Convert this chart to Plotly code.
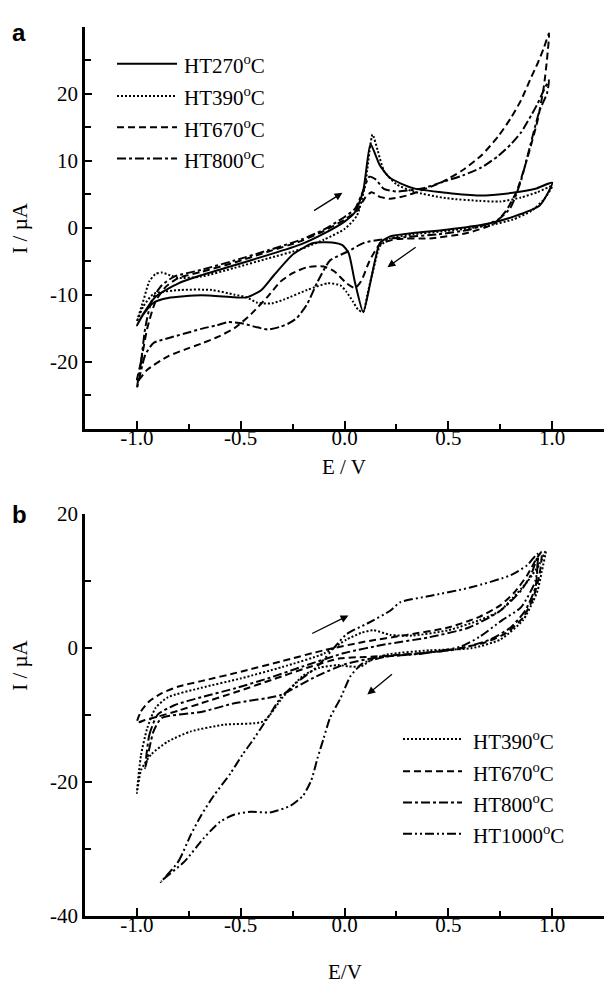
import plotly.graph_objects as go

# ---------------- Panel a data (E / V, I / uA) ----------------
a_series = ["HT270", "HT390", "HT670", "HT800"]

a_ht270_E = [-1.0, -0.97, -0.91, -0.80, -0.69, -0.53, -0.37, -0.21, -0.10, 0.0, 0.05, 0.09, 0.125, 0.15, 0.17, 0.22, 0.33, 0.49, 0.65, 0.81, 0.92, 1.0,
             0.94, 0.81, 0.69, 0.49, 0.33, 0.22, 0.17, 0.15, 0.125, 0.09, 0.05, 0.02, -0.01, -0.06, -0.15, -0.245, -0.34, -0.40, -0.47, -0.53, -0.69, -0.85, -0.92, -0.97, -1.0]
a_ht270_I = [-14.6, -12.9, -10.3, -8.3, -7.1, -5.6, -4.1, -2.5, -0.9, 0.9, 2.3, 5.5, 12.5, 10.8, 9.3, 7.4, 5.9, 5.2, 4.8, 5.2, 5.8, 6.7,
             3.3, 1.6, 0.6, -0.3, -0.8, -1.3, -2.3, -4.5, -8.1, -12.6, -8.1, -3.8, -2.6, -2.2, -2.3, -3.9, -7.1, -9.3, -10.4, -10.4, -10.1, -10.5, -11.2, -13.0, -14.6]

a_ht390_E = [-1.0, -0.97, -0.94, -0.91, -0.88, -0.84, -0.80, -0.69, -0.53, -0.37, -0.21, -0.10, 0.0, 0.06, 0.10, 0.135, 0.16, 0.19, 0.25, 0.33, 0.49, 0.65, 0.75, 0.85, 0.93, 1.0,
             0.96, 0.90, 0.81, 0.69, 0.49, 0.33, 0.22, 0.17, 0.14, 0.11, 0.09, 0.065, 0.04, 0.01, -0.02, -0.08, -0.18, -0.29, -0.35, -0.42, -0.47, -0.53, -0.64, -0.79, -0.92, -0.97, -1.0]
a_ht390_I = [-14.0, -11.0, -8.0, -6.9, -6.7, -7.1, -7.5, -7.3, -6.0, -4.6, -3.2, -1.8, -0.2, 1.8, 6.5, 13.9, 11.5, 8.5, 6.5, 5.4, 4.4, 4.0, 3.9, 4.5, 5.3, 6.2,
             4.2, 2.5, 1.2, 0.3, -0.5, -1.0, -1.6, -2.8, -6.1, -10.0, -12.6, -12.2, -11.0, -9.6, -8.6, -8.3, -9.3, -10.7, -11.3, -11.2, -10.4, -10.0, -9.3, -9.3, -9.9, -11.8, -14.0]

a_ht670_E = [-1.0, -0.98, -0.95, -0.91, -0.86, -0.80, -0.69, -0.53, -0.37, -0.21, -0.10, 0.0, 0.06, 0.10, 0.13, 0.17, 0.22, 0.30, 0.38, 0.47, 0.57, 0.66, 0.74, 0.80, 0.85, 0.90, 0.93, 0.96, 0.985,
             0.975, 0.96, 0.93, 0.88, 0.83, 0.78, 0.72, 0.59, 0.41, 0.25, 0.17, 0.12, 0.08, 0.05, 0.01, -0.05, -0.10, -0.18, -0.25, -0.31, -0.37, -0.45, -0.53, -0.61, -0.69, -0.77, -0.85, -0.95, -1.0]
a_ht670_I = [-23.0, -20.0, -15.0, -11.0, -8.8, -7.5, -6.6, -5.2, -3.6, -2.0, -0.5, 1.2, 2.5, 4.5, 5.3, 4.6, 4.3, 4.8, 5.7, 6.8, 8.6, 10.8, 13.6, 16.3, 19.0, 22.5, 24.5, 26.8, 29.0,
             25.0, 21.0, 16.0, 10.3, 5.5, 2.6, 0.6, -0.8, -1.6, -1.7, -2.5, -5.0, -8.0, -9.0, -8.3, -6.5, -5.8, -5.9, -6.8, -8.1, -10.3, -12.9, -15.0, -16.3, -17.3, -18.2, -19.2, -21.2, -23.0]

a_ht800_E = [-1.0, -0.98, -0.96, -0.93, -0.88, -0.82, -0.69, -0.53, -0.37, -0.21, -0.10, 0.0, 0.05, 0.09, 0.12, 0.15, 0.19, 0.25, 0.38, 0.47, 0.57, 0.66, 0.74, 0.80, 0.85, 0.90, 0.93, 0.96, 0.985,
             0.975, 0.94, 0.89, 0.85, 0.80, 0.74, 0.60, 0.45, 0.30, 0.17, 0.09, 0.02, -0.07, -0.13, -0.18, -0.23, -0.27, -0.31, -0.37, -0.43, -0.49, -0.56, -0.62, -0.69, -0.77, -0.85, -0.92, -0.96, -1.0]
a_ht800_I = [-24.0, -20.0, -15.0, -11.0, -8.6, -7.3, -6.3, -4.9, -3.4, -1.8, -0.3, 1.6, 2.8, 5.5, 7.6, 7.2, 5.8, 5.4, 5.9, 6.8, 7.8, 9.0, 10.7, 12.4, 14.2, 16.8, 18.5, 20.5, 22.0,
             20.0, 17.5, 11.7, 7.0, 3.0, 1.2, -0.3, -1.0, -1.4, -1.8, -2.3, -3.5, -4.9, -8.1, -11.4, -13.5, -14.3, -14.8, -15.2, -14.8, -14.3, -14.1, -14.6, -15.1, -15.8, -16.5, -17.2, -19.0, -24.0]

# ---------------- Panel b data ----------------
b_series = ["HT390", "HT670", "HT800", "HT1000"]

b_ht390_E = [-1.0, -0.98, -0.95, -0.91, -0.85, -0.69, -0.50, -0.30, -0.10, 0.01, 0.08, 0.14, 0.22, 0.33, 0.50, 0.65, 0.75, 0.81, 0.88, 0.94, 0.97,
             0.95, 0.93, 0.91, 0.86, 0.75, 0.61, 0.41, 0.21, 0.13, 0.08, 0.02, -0.03, -0.12, -0.20, -0.30, -0.39, -0.58, -0.74, -0.85, -0.93, -0.98, -1.0]
b_ht390_I = [-21.7, -16.0, -12.0, -9.0, -7.4, -6.0, -4.6, -2.9, -0.9, 1.2, 2.2, 2.6, 1.9, 1.8, 2.6, 4.1, 5.5, 7.4, 9.8, 12.5, 14.5,
             11.3, 8.5, 7.0, 4.1, 1.2, -0.1, -0.4, -1.0, -1.8, -2.8, -2.8, -2.6, -3.0, -4.2, -7.5, -11.0, -11.5, -12.5, -14.0, -15.9, -18.3, -21.7]

b_ht670_E = [-1.0, -0.98, -0.94, -0.88, -0.80, -0.69, -0.50, -0.30, -0.10, 0.10, 0.30, 0.50, 0.65, 0.75, 0.82, 0.88, 0.92, 0.95,
             0.94, 0.91, 0.86, 0.78, 0.68, 0.50, 0.30, 0.10, -0.02, -0.18, -0.34, -0.53, -0.69, -0.80, -0.90, -0.96, -1.0]
b_ht670_I = [-11.2, -9.5, -8.0, -6.8, -5.8, -5.0, -3.6, -2.0, -0.4, 0.9, 1.9, 3.0, 4.6, 6.3, 8.3, 10.8, 13.0, 14.3,
             11.0, 7.5, 4.5, 2.2, 0.8, -0.4, -1.0, -1.4, -1.6, -3.0, -4.7, -6.7, -8.3, -9.4, -10.3, -10.8, -11.2]

b_ht800_E = [-0.96, -0.94, -0.90, -0.82, -0.69, -0.53, -0.37, -0.20, 0.0, 0.20, 0.40, 0.60, 0.75, 0.85, 0.90, 0.93,
             0.92, 0.87, 0.80, 0.70, 0.55, 0.35, 0.15, 0.0, -0.15, -0.31, -0.53, -0.69, -0.88, -0.92, -0.96]
b_ht800_I = [-18.0, -13.0, -10.0, -8.6, -7.4, -6.1, -4.6, -2.8, -0.8, 0.5, 1.5, 3.0, 5.5, 8.5, 11.0, 13.5,
             9.0, 5.5, 3.0, 1.2, -0.2, -0.9, -1.5, -2.5, -4.5, -7.1, -8.3, -9.6, -10.5, -12.5, -18.0]

b_ht1000_E = [-0.885, -0.80, -0.74, -0.69, -0.63, -0.55, -0.49, -0.45, -0.37, -0.31, -0.23, -0.13, 0.01, 0.11, 0.22, 0.27, 0.41, 0.61, 0.80, 0.88, 0.93,
              0.92, 0.85, 0.76, 0.65, 0.56, 0.37, 0.21, 0.09, 0.03, -0.02, -0.07, -0.10, -0.13, -0.16, -0.20, -0.26, -0.36, -0.45, -0.53, -0.60, -0.68, -0.77, -0.87, -0.885]
b_ht1000_I = [-35.0, -31.9, -27.9, -25.0, -22.1, -18.8, -15.9, -14.2, -10.5, -7.6, -5.2, -2.8, 2.0, 3.6, 5.5, 6.8, 7.7, 9.0, 10.8, 12.3, 14.0,
              10.0, 6.0, 4.1, 1.6, 0.15, -0.9, -1.3, -2.3, -4.2, -7.6, -10.5, -13.5, -16.5, -19.8, -22.1, -23.6, -24.6, -24.5, -24.9, -26.0, -28.5, -31.9, -34.5, -35.0]

# axis ticks
x_tickvals = [-1.0, -0.5, 0.0, 0.5, 1.0]
x_ticktext = ["-1.0", "-0.5", "0.0", "0.5", "1.0"]
x_minor = [-1.25, -0.75, -0.25, 0.25, 0.75, 1.25]
a_y_tickvals = [-20, -10, 0, 10, 20]
a_y_ticktext = ["-20", "-10", "0", "10", "20"]
a_y_minor = [-25, -15, -5, 5, 15, 25]
b_y_tickvals = [-40, -20, 0, 20]
b_y_ticktext = ["-40", "-20", "0", "20"]
b_y_minor = [-30, -10, 10]

# arrows (tail E, tail I, head E, head I)
a_arrows = [(-0.154, 2.4, -0.01, 5.2), (0.35, -2.75, 0.207, -5.9)]
b_arrows = [(-0.163, 2.0, 0.019, 4.8), (0.236, -3.8, 0.11, -7.0)]

# ---------------- styling ----------------
W, H = 605, 995
SERIF = "Liberation Serif, Times New Roman, serif"
dash_styles = {
    "solid": "solid",
    "dot": "2px,2px",
    "dash": "7px,4px",
    "dashdot": "9px,3px,3px,3px",
    "dashdotdot": "9px,3px,2px,3px,2px,3px",
}
a_dash = ["solid", "dot", "dash", "dashdot"]
b_dash = ["dot", "dash", "dashdot", "dashdotdot"]

def px_x(p):
    return p / W

def px_y(p):
    return 1 - p / H

fig = go.Figure()

a_data = [(a_ht270_E, a_ht270_I), (a_ht390_E, a_ht390_I), (a_ht670_E, a_ht670_I), (a_ht800_E, a_ht800_I)]
b_data = [(b_ht390_E, b_ht390_I), (b_ht670_E, b_ht670_I), (b_ht800_E, b_ht800_I), (b_ht1000_E, b_ht1000_I)]

for name, (E, I), d in zip(a_series, a_data, a_dash):
    fig.add_trace(go.Scatter(x=E, y=I, mode="lines", name=name, showlegend=False,
                             line=dict(color="black", width=2, dash=dash_styles[d], shape="spline", smoothing=0.6),
                             xaxis="x", yaxis="y"))
for name, (E, I), d in zip(b_series, b_data, b_dash):
    fig.add_trace(go.Scatter(x=E, y=I, mode="lines", name=name, showlegend=False,
                             line=dict(color="black", width=2, dash=dash_styles[d], shape="spline", smoothing=0.6),
                             xaxis="x2", yaxis="y2"))

tickfont = dict(family=SERIF, size=21, color="black")
common_x = dict(range=[-1.25, 1.25], showline=True, linewidth=2.5, linecolor="black", mirror=False,
                showgrid=False, zeroline=False, ticks="inside", ticklen=8, tickwidth=1.5, tickcolor="black",
                tickvals=x_tickvals, ticktext=x_ticktext, tickfont=tickfont, ticklabelstandoff=-12,
                minor=dict(tickvals=x_minor, ticks="inside", ticklen=5, tickwidth=1.5, tickcolor="black"))
common_y = dict(showline=True, linewidth=2.5, linecolor="black", showgrid=False, zeroline=False,
                ticks="inside", ticklen=7, tickwidth=1.5, tickcolor="black", tickfont=tickfont)

fig.update_layout(
    width=W, height=H, margin=dict(l=0, r=0, t=0, b=0),
    paper_bgcolor="white", plot_bgcolor="white",
    xaxis=dict(domain=[px_x(85), px_x(604)], anchor="y", **common_x),
    yaxis=dict(domain=[px_y(427), px_y(15)], anchor="x", range=[-30, 30], tickvals=a_y_tickvals, ticktext=a_y_ticktext,
               minor=dict(tickvals=a_y_minor, ticks="inside", ticklen=6, tickwidth=1.5, tickcolor="black"), **common_y),
    xaxis2=dict(domain=[px_x(85), px_x(604)], anchor="y2", **common_x),
    yaxis2=dict(domain=[px_y(926), px_y(514)], anchor="x2", range=[-40, 20], tickvals=b_y_tickvals, ticktext=b_y_ticktext,
                minor=dict(tickvals=b_y_minor, ticks="inside", ticklen=6, tickwidth=1.5, tickcolor="black"), **common_y),
)

annotations = []
shapes = []
# arrows
for (tx, ty, hx, hy) in a_arrows:
    annotations.append(dict(x=hx, y=hy, ax=tx, ay=ty, xref="x", yref="y", axref="x", ayref="y",
                            showarrow=True, arrowhead=2, arrowsize=1.2, arrowwidth=1.3, arrowcolor="black", text=""))
for (tx, ty, hx, hy) in b_arrows:
    annotations.append(dict(x=hx, y=hy, ax=tx, ay=ty, xref="x2", yref="y2", axref="x2", ayref="y2",
                            showarrow=True, arrowhead=2, arrowsize=1.2, arrowwidth=1.3, arrowcolor="black", text=""))

# legends (line samples + labels)
def add_legend(names, dashes, x0, x1, xt, rows):
    for n, d, yy in zip(names, dashes, rows):
        shapes.append(dict(type="line", xref="paper", yref="paper", x0=px_x(x0), x1=px_x(x1),
                           y0=px_y(yy), y1=px_y(yy), line=dict(color="black", width=2, dash=dash_styles[d])))
        label = n + "<sup>o</sup>C"
        annotations.append(dict(x=px_x(xt), y=px_y(yy + 1), xref="paper", yref="paper", text=label,
                                showarrow=False, xanchor="left", yanchor="middle",
                                font=dict(family=SERIF, size=21, color="black")))

add_legend(a_series, a_dash, 117, 177, 182, [53, 86, 118, 150])
add_legend(b_series, b_dash, 403, 462, 471, [745, 778, 810, 842])

# axis titles and panel labels
annotations += [
    dict(x=px_x(344), y=px_y(466), xref="paper", yref="paper", text="E / V", showarrow=False,
         xanchor="center", yanchor="middle", font=dict(family=SERIF, size=21, color="black")),
    dict(x=px_x(345), y=px_y(984), xref="paper", yref="paper", text="E/V", showarrow=False,
         xanchor="center", yanchor="middle", font=dict(family=SERIF, size=21, color="black")),
    dict(x=px_x(20), y=px_y(222), xref="paper", yref="paper", text="I / µA", showarrow=False, textangle=-90,
         xanchor="center", yanchor="middle", font=dict(family=SERIF, size=21, color="black")),
    dict(x=px_x(20), y=px_y(670), xref="paper", yref="paper", text="I / µA", showarrow=False, textangle=-90,
         xanchor="center", yanchor="middle", font=dict(family=SERIF, size=21, color="black")),
    dict(x=px_x(19), y=px_y(21), xref="paper", yref="paper", text="<b>a</b>", showarrow=False,
         xanchor="center", yanchor="middle", font=dict(family="Liberation Sans, Arial, sans-serif", size=24, color="black")),
    dict(x=px_x(19), y=px_y(515), xref="paper", yref="paper", text="<b>b</b>", showarrow=False,
         xanchor="center", yanchor="middle", font=dict(family="Liberation Sans, Arial, sans-serif", size=24, color="black")),
]

fig.update_layout(annotations=annotations, shapes=shapes)
fig.write_html("out.html")
